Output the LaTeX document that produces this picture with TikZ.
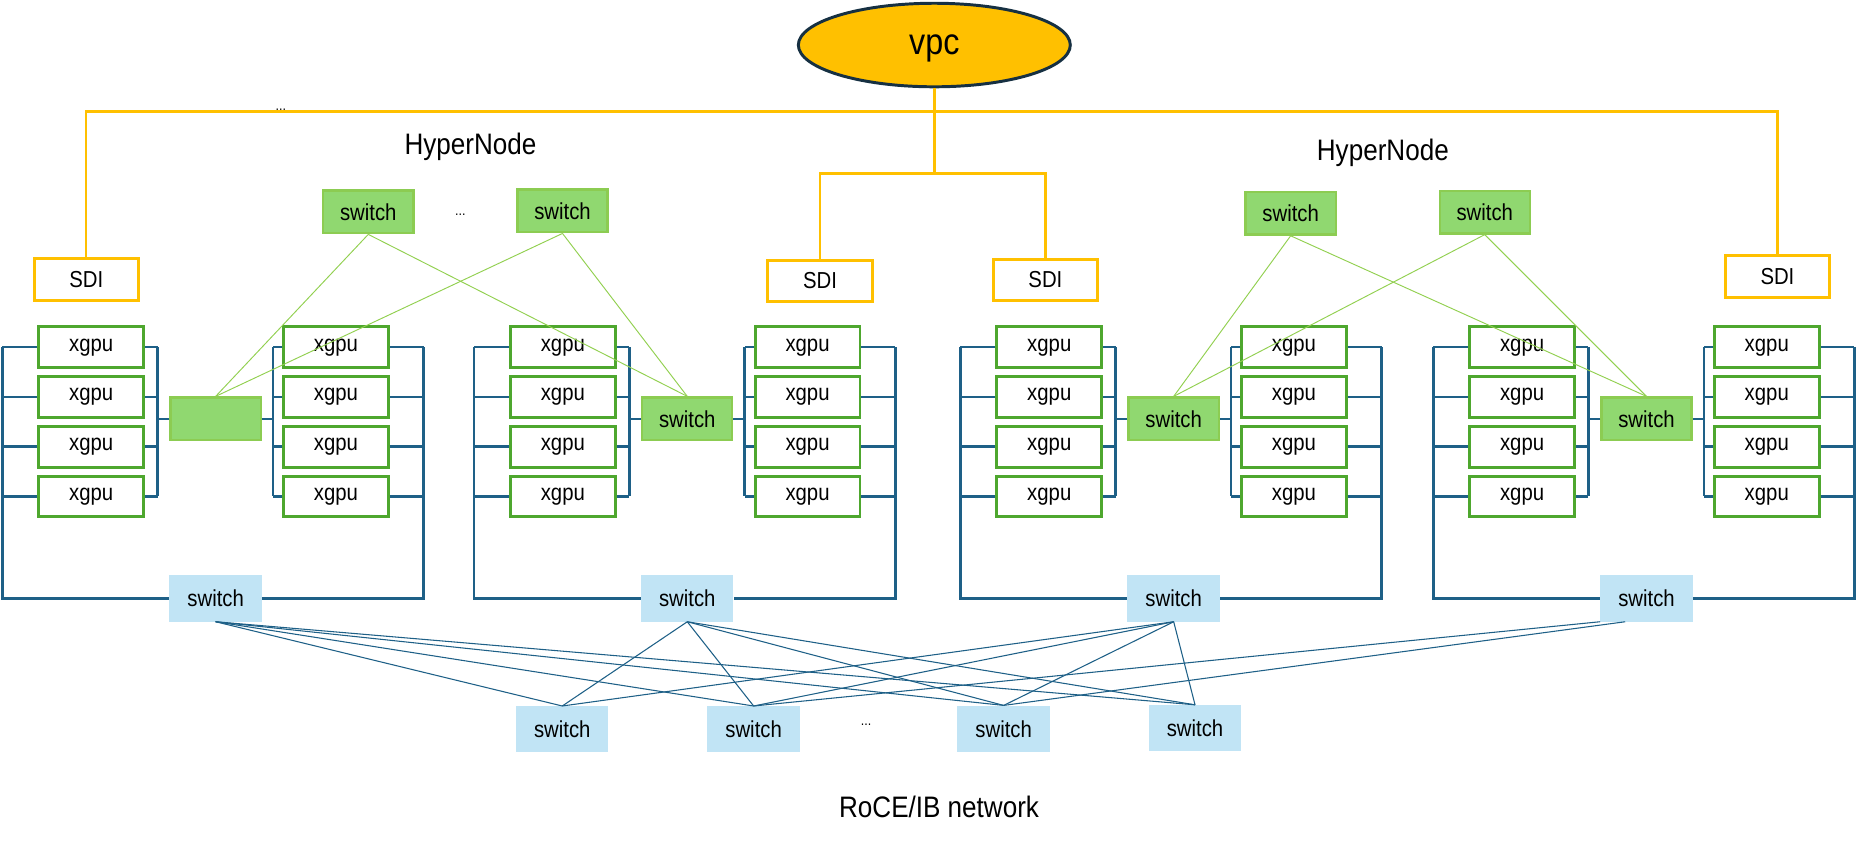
\documentclass[tikz,border=0pt]{standalone}
\usepackage{fontspec}
\setmainfont{Liberation Sans}[FakeStretch=0.88]
\usetikzlibrary{shapes.geometric}
\definecolor{vpcgold}{RGB}{255,192,0}
\definecolor{vpcrim}{RGB}{22,48,66}
\definecolor{busblue}{RGB}{30,96,135}
\definecolor{gpugreen}{RGB}{78,167,46}
\definecolor{hnfill}{RGB}{144,216,112}
\definecolor{hnrim}{RGB}{140,204,82}
\definecolor{hnline}{RGB}{146,208,80}
\definecolor{rocefill}{RGB}{193,228,245}

\tikzset{
  lbl/.style={font=\fontsize{19.5}{22}\selectfont},
  gpubox/.style={lbl, draw=gpugreen, line width=2.5pt, fill=white, minimum width=88.5pt, minimum height=34.5pt, inner sep=0pt},
  sdibox/.style={lbl, draw=vpcgold, line width=2.5pt, fill=white, minimum width=88pt, minimum height=35pt, inner sep=0pt},
  hnswitch/.style={lbl, draw=hnrim, line width=2pt, fill=hnfill, minimum width=76pt, minimum height=36pt, inner sep=0pt},
  roceswitch/.style={lbl, fill=rocefill, minimum width=78pt, minimum height=39pt, inner sep=0pt},
  bus/.style={draw=busblue, line width=2.2pt},
  vpcline/.style={draw=vpcgold, line width=2pt},
  hnlink/.style={draw=hnline, line width=0.8pt},
  fabric/.style={draw=busblue, line width=0.9pt},
  dots/.style={font=\fontsize{12}{14}\selectfont, inner sep=0pt},
  bigtext/.style={font=\fontsize{25}{29}\selectfont},
}

% one server block: #1 name, #2 left edge, #3 text of the middle switch
\def\gpublock#1#2#3{
  \coordinate (#1-ol) at (#2,0);
  \coordinate (#1-il) at ({#2+131},0);
  \coordinate (#1-ir) at ({#2+228.5},0);
  \coordinate (#1-or) at ({#2+355.5},0);
  \node[hnswitch] (#1-mid) at ({#2+180},353.5) {#3};
  \node[roceswitch] (#1-leaf) at ({#2+180},505) {switch};
  \foreach \rw/\ry in {1/293,2/335,3/377,4/419}{
    \node[gpubox] (#1-a\rw) at ({#2+75},\ry) {xgpu};
    \node[gpubox] (#1-b\rw) at ({#2+281.5},\ry) {xgpu};
    \draw[bus] (#1-a\rw.west) -- (#1-a\rw.west -| #1-ol);
    \draw[bus] (#1-a\rw.east) -- (#1-a\rw.east -| #1-il);
    \draw[bus] (#1-b\rw.west) -- (#1-b\rw.west -| #1-ir);
    \draw[bus] (#1-b\rw.east) -- (#1-b\rw.east -| #1-or);
  }
  \draw[bus] (#1-a1.east -| #1-il) -- (#1-a4.east -| #1-il);
  \draw[bus] (#1-b1.west -| #1-ir) -- (#1-b4.west -| #1-ir);
  \draw[bus] (#1-mid.west) -- (#1-mid.west -| #1-il);
  \draw[bus] (#1-mid.east) -- (#1-mid.east -| #1-ir);
  \draw[bus] (#1-a1.west -| #1-ol) |- (#1-leaf.west);
  \draw[bus] (#1-b1.east -| #1-or) |- (#1-leaf.east);
}

\begin{document}
\begin{tikzpicture}[x=1pt,y=-1pt]
  %%%%% START %%%%%
  \useasboundingbox (0,0) rectangle (1568,709);

  % vpc and the SDI uplinks
  \node[ellipse, draw=vpcrim, line width=2.5pt, fill=vpcgold, minimum width=229.5pt, minimum height=70.5pt, inner sep=0pt, text depth=0pt, font=\fontsize{31}{35}\selectfont] (vpc) at (788.5,38) {vpc};

  \node[sdibox] (sdiA) at (72.75,236) {SDI};
  \node[sdibox] (sdiB) at (692,237) {SDI};
  \node[sdibox] (sdiC) at (882.25,236.2) {SDI};
  \node[sdibox] (sdiD) at (1500,233.5) {SDI};

  \coordinate (ytop) at (788.5,94);
  \coordinate (ymid) at (788.5,146.5);
  \draw[vpcline] (vpc.south) -- (ymid);
  \draw[vpcline] (sdiA.north) |- (ytop) -| (sdiD.north);
  \draw[vpcline] (sdiB.north) |- (ymid) -| (sdiC.north);
  \node[dots] (dotsVpc) at (237,93) {...};

  % HyperNode switches
  \node[bigtext] (hnLeft) at (397,123.5) {HyperNode};
  \node[bigtext] (hnRight) at (1167,129) {HyperNode};
  \node[hnswitch] (tsA) at (310.8,178.8) {switch};
  \node[dots] (dotsHn) at (388.5,181) {...};
  \node[hnswitch] (tsB) at (474.7,178) {switch};
  \node[hnswitch] (tsC) at (1089.2,180) {switch};
  \node[hnswitch] (tsD) at (1253,179) {switch};

  % server blocks
  \gpublock{blkA}{2}{}
  \gpublock{blkB}{400}{switch}
  \gpublock{blkC}{810.5}{switch}
  \gpublock{blkD}{1209.5}{switch}

  \draw[hnlink] (tsA.south) -- (blkA-mid.north);
  \draw[hnlink] (tsA.south) -- (blkB-mid.north);
  \draw[hnlink] (tsB.south) -- (blkA-mid.north);
  \draw[hnlink] (tsB.south) -- (blkB-mid.north);
  \draw[hnlink] (tsC.south) -- (blkC-mid.north);
  \draw[hnlink] (tsC.south) -- (blkD-mid.north);
  \draw[hnlink] (tsD.south) -- (blkC-mid.north);
  \draw[hnlink] (tsD.south) -- (blkD-mid.north);

  % RoCE/IB spine
  \node[roceswitch] (spA) at (474.5,615.5) {switch};
  \node[roceswitch] (spB) at (636,615.5) {switch};
  \node[dots] (dotsRoce) at (731,612) {...};
  \node[roceswitch] (spC) at (847,615) {switch};
  \node[roceswitch] (spD) at (1008.5,614.5) {switch};

  \foreach \lf in {blkA,blkB,blkC}
    \foreach \sp in {spA,spB,spC,spD}
      \draw[fabric] (\lf-leaf.south) -- (\sp.north);
  \draw[fabric] (blkD-leaf.south west) -- (spB.north);
  \draw[fabric] ([xshift=-18pt]blkD-leaf.south) -- (spC.north);

  \node[bigtext] (roce) at (792.5,681) {RoCE/IB network};
  %%%%% END %%%%%
\end{tikzpicture}
\end{document}
